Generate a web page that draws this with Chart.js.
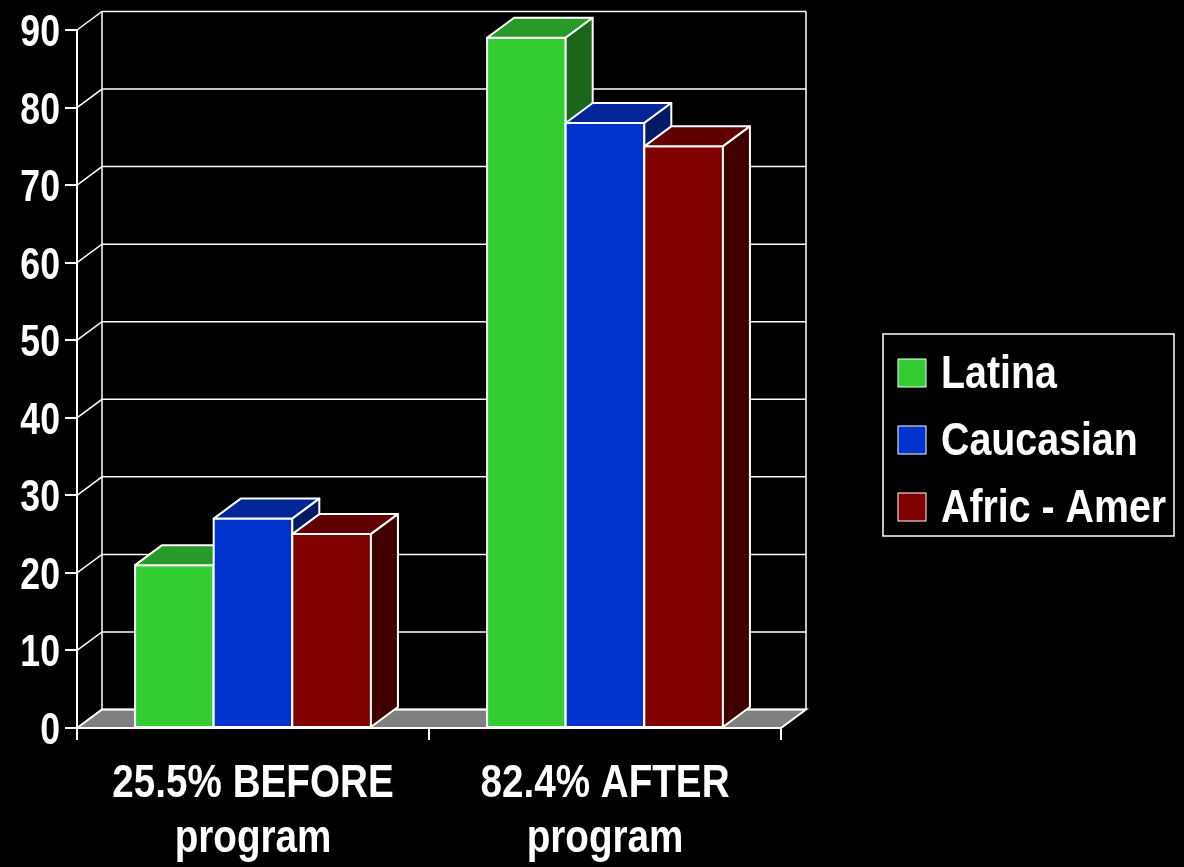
<!DOCTYPE html>
<html>
<head>
<meta charset="utf-8">
<script src="https://cdn.jsdelivr.net/npm/chart.js@4/dist/chart.umd.min.js"></script>
<style>
  html, body { margin: 0; padding: 0; background: #000; }
  #wrap { width: 1184px; height: 867px; position: relative; }
</style>
</head>
<body>
<div id="wrap"><canvas id="c" width="1184" height="867"></canvas></div>
<script>
// Group labels along the bottom (two lines each)
const categories = [['25.5% BEFORE', 'program'], ['82.4% AFTER', 'program']];
// Series names
const seriesNames = ['Latina', 'Caucasian', 'Afric - Amer'];
// Series values, one per group
const latina = [21, 89];
const caucasian = [27, 78];
const africAmer = [25, 75];
// Value axis
const yMin = 0;
const yMax = 90;
const yStep = 10;

// Face colours: front, top, side
const faceColors = [
  { front: '#33cc33', top: '#299929', side: '#1c661c' },
  { front: '#0033cc', top: '#002699', side: '#001a66' },
  { front: '#800000', top: '#600000', side: '#400000' }
];

const FONT_FAMILY = '"Liberation Sans", Arial, Helvetica, sans-serif';
const BAR_DX = 27, BAR_DY = -20;   // bar depth offset
const WALL_DX = 25, WALL_DY = -18.5; // wall depth offset

// Draws text squeezed horizontally to get a narrow bold face
function narrowText(ctx, text, x, y, size, squeeze, align, baseline) {
  ctx.save();
  ctx.translate(x, y);
  ctx.scale(squeeze, 1);
  ctx.font = 'bold ' + size + 'px ' + FONT_FAMILY;
  ctx.textAlign = align;
  ctx.textBaseline = baseline;
  ctx.fillStyle = '#ffffff';
  ctx.fillText(text, 0, 0);
  ctx.restore();
}

// Floor, side wall and back wall with their grid lines
const wallsPlugin = {
  id: 'walls',
  beforeDatasetsDraw(chart) {
    const ctx = chart.ctx;
    const a = chart.chartArea;
    const ys = chart.scales.y;
    const yBase = ys.getPixelForValue(yMin);
    const yTop = ys.getPixelForValue(yMax);
    ctx.save();
    // floor
    ctx.beginPath();
    ctx.moveTo(a.left, yBase);
    ctx.lineTo(a.left + WALL_DX, yBase + WALL_DY);
    ctx.lineTo(a.right + WALL_DX, yBase + WALL_DY);
    ctx.lineTo(a.right, yBase);
    ctx.closePath();
    ctx.fillStyle = '#808080';
    ctx.fill();
    ctx.strokeStyle = '#ffffff';
    ctx.lineWidth = 2;
    ctx.stroke();
    // grid lines: diagonal on the side wall, horizontal on the back wall
    ctx.lineWidth = 1.5;
    for (let v = yMin; v <= yMax; v += yStep) {
      const y = ys.getPixelForValue(v);
      ctx.beginPath();
      ctx.moveTo(a.left, y);
      ctx.lineTo(a.left + WALL_DX, y + WALL_DY);
      ctx.lineTo(a.right + WALL_DX, y + WALL_DY);
      ctx.stroke();
    }
    // back wall verticals
    ctx.beginPath();
    ctx.moveTo(a.left + WALL_DX, yTop + WALL_DY);
    ctx.lineTo(a.left + WALL_DX, yBase + WALL_DY);
    ctx.moveTo(a.right + WALL_DX, yTop + WALL_DY);
    ctx.lineTo(a.right + WALL_DX, yBase + WALL_DY);
    ctx.stroke();
    ctx.restore();
  }
};

// Boxes: front, top and side faces, drawn left to right
const boxesPlugin = {
  id: 'boxes',
  afterDatasetsDraw(chart) {
    const ctx = chart.ctx;
    const n = chart.data.labels.length;
    ctx.save();
    ctx.strokeStyle = '#ffffff';
    ctx.lineWidth = 2;
    ctx.lineJoin = 'round';
    for (let i = 0; i < n; i++) {
      chart.data.datasets.forEach((ds, d) => {
        const el = chart.getDatasetMeta(d).data[i];
        const p = el.getProps(['x', 'y', 'base', 'width'], true);
        const l = p.x - p.width / 2, r = p.x + p.width / 2;
        const t = p.y, b = p.base;
        const c = faceColors[d];
        const poly = (pts, fill) => {
          ctx.beginPath();
          ctx.moveTo(pts[0][0], pts[0][1]);
          for (let k = 1; k < pts.length; k++) ctx.lineTo(pts[k][0], pts[k][1]);
          ctx.closePath();
          ctx.fillStyle = fill;
          ctx.fill();
          ctx.stroke();
        };
        poly([[l, t], [r, t], [r, b], [l, b]], c.front);
        poly([[l, t], [l + BAR_DX, t + BAR_DY], [r + BAR_DX, t + BAR_DY], [r, t]], c.top);
        poly([[r, t], [r + BAR_DX, t + BAR_DY], [r + BAR_DX, b + BAR_DY], [r, b]], c.side);
      });
    }
    ctx.restore();
  }
};

// Axis labels in a narrow bold face, placed from the scales' own ticks
const axisLabelsPlugin = {
  id: 'axisLabels',
  afterDraw(chart) {
    const ctx = chart.ctx;
    const xs = chart.scales.x, ys = chart.scales.y;
    ys.ticks.forEach((t, i) => {
      narrowText(ctx, String(t.value), ys.right - 17, ys.getPixelForTick(i) + 16, 44, 0.81, 'right', 'alphabetic');
    });
    chart.data.labels.forEach((lines, i) => {
      const x = xs.getPixelForTick(i);
      lines.forEach((line, k) => {
        narrowText(ctx, line, x, xs.top + 69 + k * 55, 46, 0.84, 'center', 'alphabetic');
      });
    });
  }
};

// Framed legend to the right of the plot
const legendBoxPlugin = {
  id: 'legendBox',
  afterDraw(chart) {
    const ctx = chart.ctx;
    const a = chart.chartArea;
    const bx = a.right + 102, by = 334, bw = 291, bh = 202;
    ctx.save();
    ctx.strokeStyle = '#ffffff';
    ctx.lineWidth = 1.5;
    ctx.strokeRect(bx, by, bw, bh);
    chart.data.datasets.forEach((ds, d) => {
      const sy = by + 25 + d * 67;
      ctx.fillStyle = faceColors[d].front;
      ctx.fillRect(bx + 15, sy, 28, 28);
      ctx.lineWidth = 1;
      ctx.strokeRect(bx + 15, sy, 28, 28);
      narrowText(ctx, ds.label, bx + 58, sy + 29, 46, 0.855, 'left', 'alphabetic');
    });
    ctx.restore();
  }
};

const seriesValues = [latina, caucasian, africAmer];

new Chart(document.getElementById('c'), {
  type: 'bar',
  data: {
    labels: categories,
    datasets: seriesNames.map((name, d) => ({
      label: name,
      data: seriesValues[d],
      backgroundColor: faceColors[d].front,
      borderColor: '#ffffff',
      borderWidth: 2,
      barPercentage: 1.0,
      categoryPercentage: 0.67
    }))
  },
  options: {
    responsive: false,
    animation: false,
    events: [],
    layout: { padding: { top: 30, right: 403, left: 0, bottom: 0 } },
    plugins: {
      legend: { display: false },
      tooltip: { enabled: false }
    },
    scales: {
      x: {
        grid: { display: true, drawOnChartArea: false, drawTicks: true, tickLength: 12, color: '#ffffff', lineWidth: 2 },
        border: { display: true, color: '#ffffff', width: 2 },
        ticks: { display: false },
        afterFit(scale) { scale.height = 139; }
      },
      y: {
        min: yMin,
        max: yMax,
        grid: { display: true, drawOnChartArea: false, drawTicks: true, tickLength: 12, color: '#ffffff', lineWidth: 2 },
        border: { display: true, color: '#ffffff', width: 2 },
        ticks: { stepSize: yStep, display: false },
        afterFit(scale) { scale.width = 77; }
      }
    }
  },
  plugins: [wallsPlugin, boxesPlugin, axisLabelsPlugin, legendBoxPlugin]
});
</script>
</body>
</html>
